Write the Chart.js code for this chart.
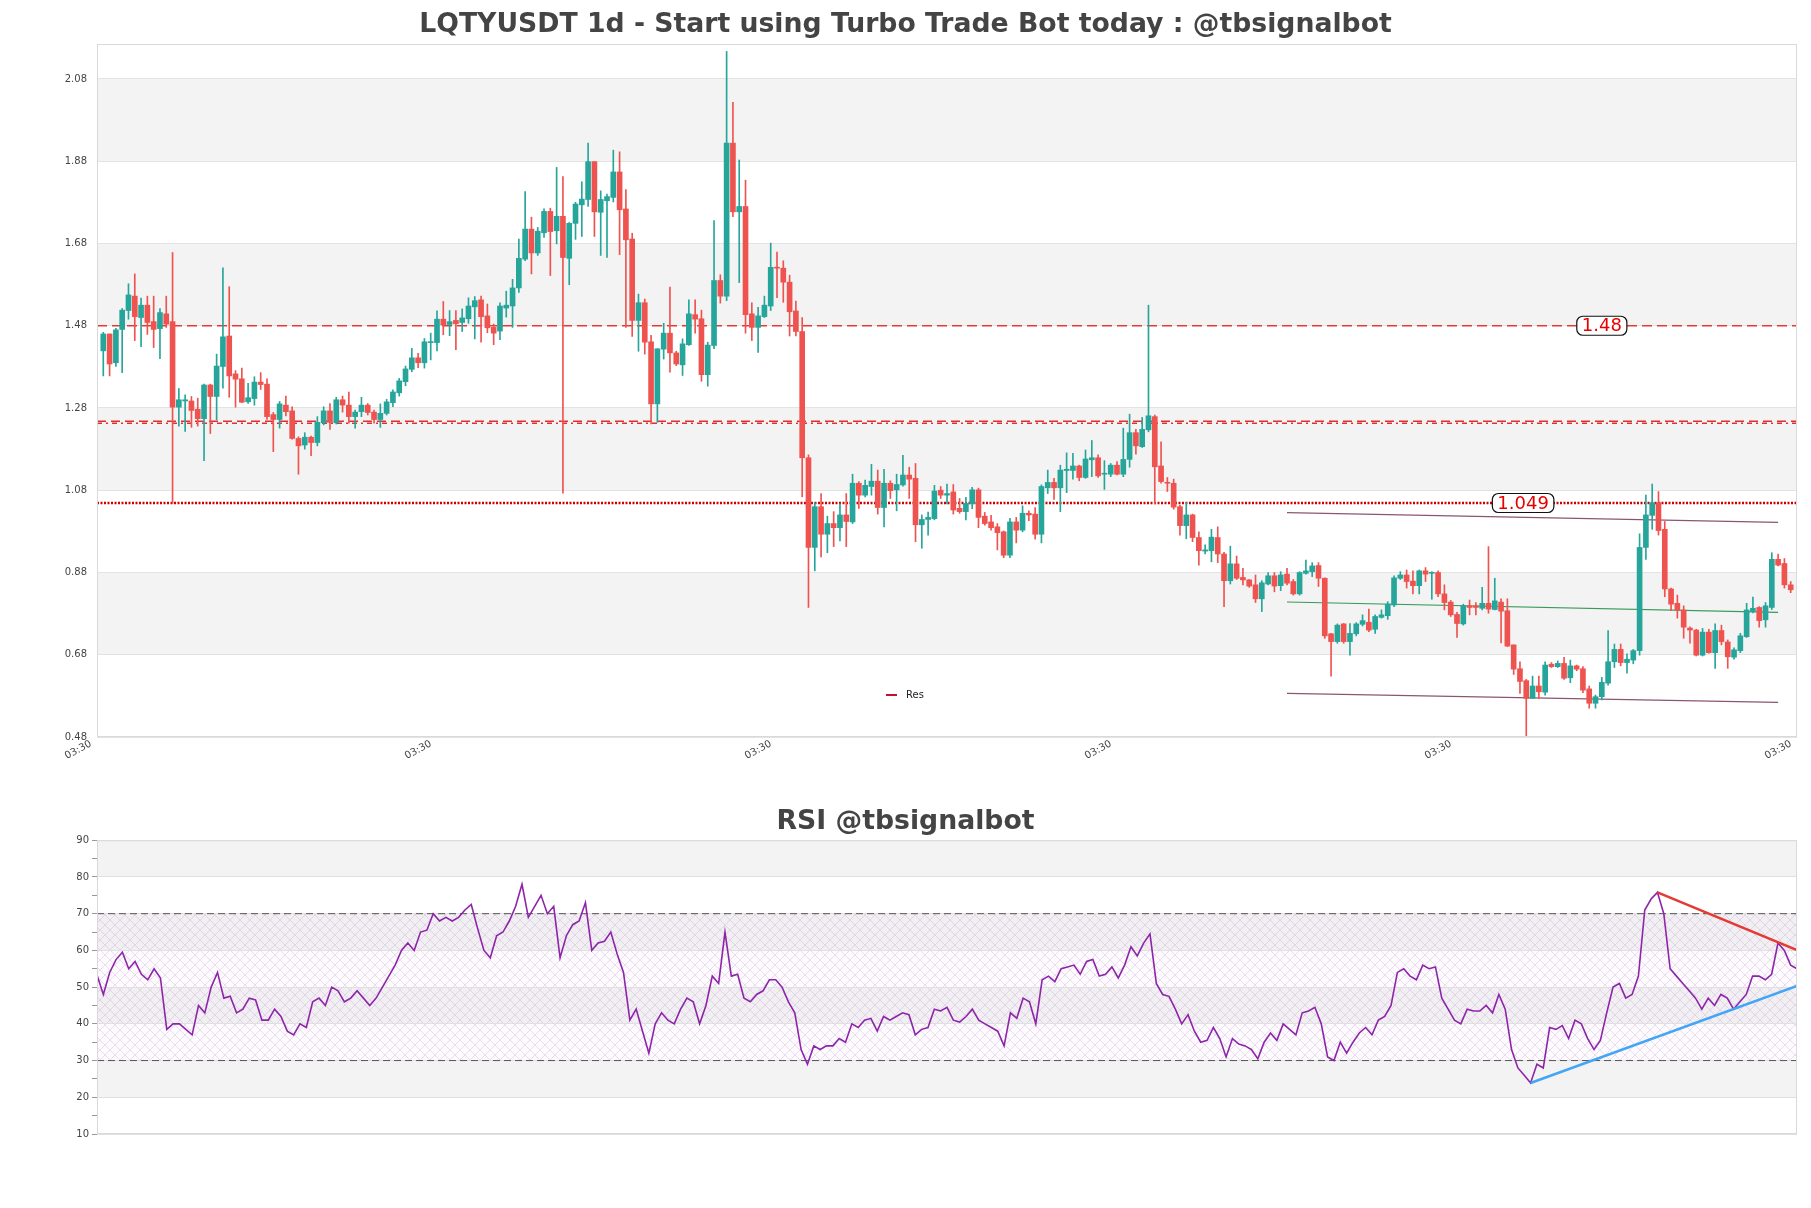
<!DOCTYPE html>
<html>
<head>
<meta charset="utf-8">
<script src="https://cdn.jsdelivr.net/npm/chart.js@4.4.0/dist/chart.umd.min.js"></script>
<style>
  body { margin: 0; background: #fff; width: 1811px; height: 1208px; position: relative; overflow: hidden; font-family: "DejaVu Sans", sans-serif; }
  #priceChart { position: absolute; left: 0; top: 0; }
  #rsiChart { position: absolute; left: 0; top: 790px; }
  #legend { position: absolute; left: 886px; top: 688px; font-size: 10px; color: #222; line-height: 14px; }
  #legend .swatch { display: inline-block; width: 11px; height: 2px; background: #c8102e; vertical-align: middle; margin-right: 9px; }
</style>
</head>
<body>
<canvas id="priceChart" width="1811" height="790"></canvas>
<canvas id="rsiChart" width="1811" height="418"></canvas>
<div id="legend"><span class="swatch"></span>Res</div>
<script>
const openP = [
  1.419,1.460,1.390,1.471,1.517,1.552,1.500,1.530,1.490,1.473,
  1.509,1.490,1.282,1.297,1.297,1.277,1.254,1.336,1.308,1.381,
  1.455,1.363,1.351,1.295,1.303,1.343,1.338,1.264,1.252,1.287,
  1.273,1.206,1.190,1.209,1.196,1.244,1.273,1.244,1.300,1.287,
  1.259,1.271,1.287,1.270,1.252,1.267,1.293,1.317,1.344,1.374,
  1.402,1.390,1.439,1.439,1.496,1.483,1.493,1.488,1.497,1.526,
  1.543,1.504,1.476,1.467,1.523,1.528,1.572,1.642,1.715,1.657,
  1.706,1.758,1.711,1.746,1.644,1.729,1.774,1.787,1.879,1.756,
  1.784,1.792,1.854,1.764,1.691,1.493,1.536,1.441,1.290,1.423,
  1.462,1.414,1.385,1.434,1.507,1.497,1.361,1.432,1.590,1.552,
  1.924,1.757,1.770,1.509,1.476,1.502,1.528,1.622,1.620,1.586,
  1.516,1.466,1.159,0.941,1.040,0.973,0.999,0.989,1.020,1.003,
  1.097,1.068,1.089,1.102,1.038,1.097,1.081,1.093,1.117,1.109,
  0.996,1.009,1.011,1.080,1.068,1.076,1.036,1.028,1.047,1.081,
  1.017,1.003,0.991,0.979,0.922,1.003,0.983,1.024,1.022,0.973,
  1.086,1.099,1.086,1.128,1.128,1.139,1.111,1.154,1.159,1.119,
  1.119,1.141,1.119,1.155,1.220,1.186,1.227,1.259,1.139,1.099,
  1.097,1.040,0.994,1.020,0.965,0.932,0.933,0.965,0.925,0.860,
  0.901,0.868,0.862,0.850,0.816,0.852,0.872,0.848,0.876,0.858,
  0.828,0.878,0.882,0.897,0.866,0.731,0.712,0.755,0.712,0.731,
  0.754,0.759,0.742,0.771,0.775,0.801,0.866,0.874,0.859,0.848,
  0.884,0.878,0.880,0.828,0.808,0.778,0.755,0.799,0.799,0.793,
  0.805,0.790,0.808,0.787,0.704,0.646,0.617,0.574,0.604,0.589,
  0.657,0.651,0.659,0.624,0.653,0.646,0.597,0.562,0.578,0.611,
  0.663,0.693,0.661,0.667,0.690,0.941,1.019,1.050,0.985,0.840,
  0.805,0.789,0.745,0.740,0.679,0.735,0.685,0.739,0.711,0.674,
  0.690,0.724,0.785,0.795,0.765,0.795,0.912,0.902,0.850
];
const highP = [
  1.464,1.460,1.474,1.522,1.582,1.606,1.547,1.552,1.552,1.522,
  1.552,1.658,1.327,1.312,1.308,1.304,1.338,1.338,1.411,1.621,
  1.575,1.371,1.377,1.340,1.356,1.366,1.351,1.269,1.296,1.309,
  1.283,1.210,1.220,1.212,1.259,1.283,1.291,1.306,1.309,1.319,
  1.275,1.306,1.291,1.275,1.290,1.301,1.324,1.352,1.382,1.425,
  1.413,1.449,1.462,1.516,1.539,1.517,1.517,1.521,1.548,1.551,
  1.552,1.533,1.484,1.536,1.564,1.593,1.691,1.806,1.744,1.719,
  1.764,1.766,1.865,1.843,1.731,1.780,1.830,1.924,1.879,1.808,
  1.800,1.907,1.903,1.811,1.705,1.557,1.545,1.457,1.424,1.486,
  1.574,1.418,1.448,1.543,1.543,1.518,1.440,1.736,1.604,2.147,
  2.023,1.883,1.834,1.536,1.525,1.552,1.681,1.659,1.638,1.603,
  1.540,1.500,1.166,1.050,1.072,1.017,1.028,1.047,1.072,1.119,
  1.101,1.105,1.143,1.129,1.131,1.103,1.119,1.165,1.136,1.145,
  1.020,1.027,1.092,1.089,1.095,1.094,1.060,1.063,1.087,1.085,
  1.026,1.019,0.999,0.981,1.012,1.014,1.042,1.030,1.038,1.093,
  1.129,1.109,1.141,1.171,1.170,1.141,1.178,1.201,1.166,1.152,
  1.145,1.150,1.231,1.265,1.228,1.257,1.530,1.263,1.198,1.111,
  1.107,1.044,1.050,1.022,0.979,0.947,0.985,0.991,0.929,0.944,
  0.920,0.890,0.863,0.874,0.860,0.880,0.880,0.882,0.890,0.863,
  0.882,0.910,0.904,0.904,0.867,0.732,0.755,0.756,0.756,0.758,
  0.777,0.791,0.777,0.789,0.809,0.872,0.882,0.886,0.884,0.886,
  0.892,0.882,0.884,0.850,0.812,0.783,0.803,0.813,0.807,0.844,
  0.943,0.866,0.816,0.816,0.704,0.663,0.620,0.628,0.628,0.663,
  0.661,0.665,0.674,0.667,0.655,0.651,0.604,0.582,0.625,0.739,
  0.706,0.706,0.682,0.693,0.974,1.068,1.095,1.077,1.004,0.842,
  0.825,0.799,0.748,0.742,0.744,0.742,0.755,0.752,0.716,0.697,
  0.732,0.805,0.820,0.797,0.807,0.928,0.925,0.914,0.858
];
const lowP = [
  1.358,1.358,1.381,1.366,1.496,1.444,1.429,1.459,1.427,1.400,
  1.476,1.048,1.236,1.223,1.233,1.236,1.152,1.218,1.251,1.328,
  1.306,1.282,1.293,1.291,1.287,1.325,1.252,1.174,1.231,1.261,
  1.204,1.119,1.180,1.164,1.188,1.239,1.228,1.241,1.270,1.243,
  1.231,1.259,1.263,1.243,1.233,1.263,1.283,1.309,1.334,1.368,
  1.378,1.377,1.397,1.419,1.458,1.456,1.422,1.466,1.486,1.448,
  1.440,1.463,1.434,1.446,1.501,1.476,1.561,1.638,1.606,1.651,
  1.695,1.602,1.679,1.073,1.580,1.690,1.697,1.770,1.697,1.651,
  1.646,1.781,1.653,1.476,1.454,1.418,1.411,1.241,1.245,1.399,
  1.367,1.383,1.359,1.432,1.462,1.345,1.333,1.424,1.535,1.541,
  1.745,1.585,1.462,1.444,1.415,1.500,1.517,1.548,1.537,1.455,
  1.455,1.064,0.795,0.884,0.918,0.928,0.943,0.957,0.943,0.999,
  1.036,1.064,1.068,1.022,0.991,1.060,1.030,1.090,1.060,0.955,
  0.939,0.971,1.008,1.060,1.047,1.022,1.024,1.008,1.035,0.989,
  0.995,0.983,0.935,0.916,0.916,0.952,0.979,1.006,0.961,0.952,
  1.072,1.058,1.028,1.074,1.107,1.103,1.109,1.113,1.111,1.082,
  1.113,1.117,1.113,1.136,1.168,1.184,1.222,1.047,1.097,1.077,
  1.034,0.971,0.962,0.955,0.898,0.925,0.906,0.904,0.797,0.852,
  0.863,0.850,0.844,0.807,0.785,0.850,0.833,0.836,0.850,0.825,
  0.825,0.876,0.870,0.846,0.720,0.628,0.708,0.708,0.679,0.726,
  0.750,0.736,0.732,0.769,0.766,0.797,0.863,0.842,0.828,0.828,
  0.858,0.815,0.821,0.789,0.773,0.722,0.752,0.777,0.777,0.789,
  0.781,0.789,0.709,0.700,0.632,0.586,0.482,0.574,0.574,0.582,
  0.649,0.649,0.620,0.612,0.641,0.588,0.550,0.550,0.570,0.606,
  0.649,0.653,0.635,0.658,0.679,0.912,0.985,0.971,0.821,0.787,
  0.769,0.720,0.708,0.677,0.677,0.684,0.647,0.704,0.647,0.669,
  0.685,0.722,0.782,0.747,0.747,0.790,0.896,0.842,0.831
];
const closeP = [
  1.460,1.387,1.470,1.518,1.555,1.502,1.530,1.488,1.471,1.512,
  1.484,1.282,1.300,1.300,1.274,1.254,1.336,1.308,1.382,1.453,
  1.358,1.350,1.294,1.305,1.343,1.337,1.259,1.252,1.290,1.271,
  1.206,1.188,1.209,1.196,1.245,1.273,1.245,1.300,1.287,1.259,
  1.270,1.287,1.269,1.252,1.267,1.295,1.319,1.346,1.375,1.402,
  1.390,1.441,1.441,1.496,1.482,1.490,1.485,1.499,1.528,1.541,
  1.502,1.475,1.462,1.528,1.530,1.572,1.644,1.715,1.657,1.710,
  1.758,1.709,1.746,1.646,1.729,1.776,1.788,1.879,1.757,1.787,
  1.794,1.854,1.762,1.689,1.493,1.536,1.440,1.290,1.424,1.462,
  1.414,1.387,1.436,1.509,1.496,1.361,1.433,1.590,1.552,1.924,
  1.757,1.770,1.507,1.476,1.504,1.530,1.622,1.620,1.586,1.514,
  1.466,1.159,0.941,1.040,0.973,0.999,0.989,1.020,1.004,1.097,
  1.068,1.092,1.102,1.038,1.097,1.079,1.094,1.117,1.107,0.996,
  1.009,1.014,1.078,1.068,1.072,1.032,1.028,1.048,1.081,1.014,
  0.999,0.989,0.977,0.922,1.003,0.983,1.024,1.020,0.973,1.089,
  1.099,1.086,1.129,1.131,1.139,1.111,1.156,1.159,1.115,1.121,
  1.141,1.119,1.155,1.220,1.188,1.228,1.261,1.137,1.101,1.097,
  1.039,0.994,1.020,0.965,0.933,0.935,0.966,0.925,0.860,0.901,
  0.866,0.862,0.847,0.816,0.855,0.872,0.847,0.874,0.854,0.828,
  0.880,0.884,0.896,0.866,0.726,0.712,0.752,0.712,0.732,0.755,
  0.763,0.740,0.773,0.777,0.803,0.867,0.874,0.858,0.848,0.884,
  0.876,0.880,0.828,0.807,0.777,0.756,0.799,0.795,0.795,0.805,
  0.791,0.811,0.786,0.701,0.645,0.615,0.574,0.604,0.590,0.655,
  0.651,0.659,0.623,0.653,0.645,0.594,0.562,0.578,0.613,0.663,
  0.693,0.661,0.669,0.690,0.941,1.020,1.050,0.982,0.840,0.803,
  0.789,0.747,0.740,0.679,0.735,0.685,0.739,0.712,0.675,0.692,
  0.726,0.789,0.793,0.763,0.799,0.912,0.898,0.850,0.838
];

// RSI, one value per candle
const rsiValues = [
  53.3,48,54,57.5,59.5,55,57,53.5,52,55,
  52.5,38.5,40,40,38.5,37,45,43,50,54,
  47,47.5,43,44,47,46.5,41,41,44,42,
  38,37,40,39,46,47,45,50,49,46,
  47,49,47,45,47,50,53,56,60,62,
  60,65,65.5,70,68,69,68,69,71,72.5,
  66,60,58,64,65,68,72,78,69,72,
  75,70,72,58,64,67,68,73,60,62,
  62.5,65,59,54,41,44,38,32,40,43,
  41,40,44,47,46,40,45,53,51,65,
  53,53.5,47,46,48,49,52,52,50,46,
  43,33,29,34,33,34,34,36,35,40,
  39,41,41.5,38,42,41,42,43,42.5,37,
  38.5,39,44,43.5,44.5,41,40.5,42,44,41,
  40,39,38,34,43,41.5,47,46,40,52,
  53,51.5,55,55.5,56,53.5,57,57.5,53,53.5,
  55.5,52.5,56,61,58.5,62,64.5,51,48,47.5,
  44,40,42.5,38,35,35.5,39,36,31,36,
  34.5,34,33,30.5,35,37.5,35.5,40,38.5,37,
  43,43.5,44.5,40,31,30,35,32,35,37.5,
  39,37,41,42,45,54,55,53,52,56,
  55,55.5,47,44,41,40,44,43.5,43.5,45,
  43,48,44,33,28,26,23.9,29,28,39,
  38.5,39.5,36,41,40,36,33,35.5,43,50,
  51,47,48,53,71,74,75.8,70,55,53,
  51,49,47,44,47,45,48,47,44,46,
  48,53,53,52,53.5,62,60,56,55
];

const yTicks = [0.48, 0.68, 0.88, 1.08, 1.28, 1.48, 1.68, 1.88, 2.08];
const xTickPos = [0, 54, 108, 162, 216, 270];
const xTickLabels = ["03:30", "03:30", "03:30", "03:30", "03:30", "03:30"];

const resLevels = [1.48, 1.2477, 1.2428, 1.049];
const resLabelText = ["1.48", "1.049"];
const resLabelValue = [1.48, 1.049];
const resLabelPos = [239, 226.5];

// channel drawn on the last part of the chart
const channelX = [189, 267];
const channelUpper = [1.0254, 1.0021];
const channelMid = [0.8083, 0.7832];
const channelLower = [0.5863, 0.5644];

const rsiLevels = [70, 30];
const rsiZone = [30, 70];
const rsiFallX = [246, 268];
const rsiFallY = [75.8, 60.1];
const rsiRiseX = [226, 268];
const rsiRiseY = [23.9, 50.3];

Chart.defaults.font.family = "'DejaVu Sans', sans-serif";
Chart.defaults.color = "#444";

const upColor = "#26a69a";
const downColor = "#ef5350";
const candleColors = closeP.map((c, i) => (c >= openP[i] ? upColor : downColor));
const wickData = openP.map((_, i) => ({ x: i + 1, y: [lowP[i], highP[i]] }));
const bodyData = openP.map((o, i) => ({ x: i + 1, y: [o, closeP[i]] }));

function levelLine(v, xMin, xMax) {
  return [{ x: xMin, y: v }, { x: xMax, y: v }];
}
function segment(xs, ys) {
  return xs.map((x, i) => ({ x: x, y: ys[i] }));
}

// empty axis on the right so the title is centred on the whole canvas
const spacerAxis = {
  position: "right",
  afterFit: s => { s.width = 14; },
  ticks: { display: false },
  grid: { display: false, drawTicks: false },
  border: { display: false }
};

const bandsPlugin = {
  id: "bands",
  beforeDraw(chart, args, opts) {
    const { ctx, chartArea: a, scales: { y } } = chart;
    const major = y.ticks.map(t => t.value).filter(v => opts.isMajor(v));
    ctx.save();
    ctx.fillStyle = "#fff";
    ctx.fillRect(a.left, a.top, a.width, a.height);
    ctx.fillStyle = "#f3f3f3";
    for (let i = 1; i < major.length - 1; i += 2) {
      const y1 = y.getPixelForValue(major[i]);
      const y2 = y.getPixelForValue(major[i + 1]);
      ctx.fillRect(a.left, y2, a.width, y1 - y2);
    }
    if (opts.zone) {
      const pc = document.createElement("canvas");
      pc.width = pc.height = 10;
      const g = pc.getContext("2d");
      g.strokeStyle = "rgba(200,175,215,0.5)";
      g.lineWidth = 0.8;
      g.beginPath();
      g.moveTo(0, 0); g.lineTo(10, 10);
      g.moveTo(10, 0); g.lineTo(0, 10);
      g.stroke();
      const top = y.getPixelForValue(opts.zone[1]);
      const bot = y.getPixelForValue(opts.zone[0]);
      ctx.fillStyle = "rgba(215,190,230,0.06)";
      ctx.fillRect(a.left, top, a.width, bot - top);
      ctx.fillStyle = ctx.createPattern(pc, "repeat");
      ctx.fillRect(a.left, top, a.width, bot - top);
    }
    ctx.restore();
  },
  afterDraw(chart) {
    const { ctx, chartArea: a } = chart;
    ctx.save();
    ctx.strokeStyle = "#d9d9d9";
    ctx.lineWidth = 1;
    ctx.strokeRect(a.left + 0.5, a.top + 0.5, a.width - 1, a.height - 1);
    ctx.restore();
  }
};

const levelLabelPlugin = {
  id: "levelLabels",
  afterDatasetsDraw(chart) {
    const { ctx, scales: { x, y } } = chart;
    ctx.save();
    ctx.font = "18px 'DejaVu Sans'";
    ctx.textAlign = "center";
    ctx.textBaseline = "middle";
    resLabelText.forEach((t, i) => {
      const px = x.getPixelForValue(resLabelPos[i]);
      const py = y.getPixelForValue(resLabelValue[i]);
      const w = ctx.measureText(t).width + 10;
      const h = 19;
      ctx.beginPath();
      ctx.roundRect(px - w / 2, py - h / 2, w, h, 6);
      ctx.fillStyle = "#fff";
      ctx.fill();
      ctx.lineWidth = 1.2;
      ctx.strokeStyle = "#111";
      ctx.stroke();
      ctx.fillStyle = "#e60000";
      ctx.fillText(t, px, py + 1);
    });
    ctx.restore();
  }
};

const xMin = xTickPos[0];
const xMax = xTickPos[xTickPos.length - 1];

new Chart(document.getElementById("priceChart"), {
  type: "bar",
  data: {
    datasets: [
      { type: "line", label: "Res", data: levelLine(resLevels[0], xMin, xMax), borderColor: "#e53935", borderWidth: 1.5, borderDash: [10, 5], pointRadius: 0, order: 5 },
      { type: "line", label: "Res2", data: levelLine(resLevels[1], xMin, xMax), borderColor: "#e03030", borderWidth: 1.5, borderDash: [9, 5], pointRadius: 0, order: 5 },
      { type: "line", label: "Res3", data: levelLine(resLevels[2], xMin, xMax), borderColor: "#e03030", borderWidth: 1.5, borderDash: [5, 4, 2, 4], pointRadius: 0, order: 5 },
      { type: "line", label: "Res4", data: levelLine(resLevels[3], xMin, xMax), borderColor: "#cc0000", borderWidth: 2.5, borderDash: [2, 1.5], pointRadius: 0, order: 5 },
      { type: "line", label: "upper", data: segment(channelX, channelUpper), borderColor: "#8a5570", borderWidth: 1.2, pointRadius: 0, order: 4 },
      { type: "line", label: "mid", data: segment(channelX, channelMid), borderColor: "#3a9a5b", borderWidth: 1.2, pointRadius: 0, order: 4 },
      { type: "line", label: "lower", data: segment(channelX, channelLower), borderColor: "#8a5570", borderWidth: 1.2, pointRadius: 0, order: 4 },
      { label: "wick", data: wickData, backgroundColor: candleColors, barThickness: 1, grouped: false, order: 2 },
      { label: "body", data: bodyData, backgroundColor: candleColors, barThickness: 5, minBarLength: 1, grouped: false, order: 1 }
    ]
  },
  options: {
    responsive: false,
    animation: false,
    events: [],
    layout: { padding: 0 },
    plugins: {
      legend: { display: false },
      tooltip: { enabled: false },
      title: {
        display: true,
        text: "LQTYUSDT 1d - Start using Turbo Trade Bot today : @tbsignalbot",
        font: { size: 26.7, weight: "bold" },
        color: "#444",
        padding: { top: 9.2, bottom: 2.8 }
      },
      bands: { isMajor: () => true }
    },
    scales: {
      x: {
        type: "linear",
        min: xMin,
        max: xMax,
        offset: false,
        afterBuildTicks: s => { s.ticks = xTickPos.map(v => ({ value: v })); },
        afterFit: s => { s.height = 53; },
        ticks: { autoSkip: false, minRotation: 28, maxRotation: 28, font: { size: 10 }, color: "#444",
                 padding: 1, labelOffset: -6, callback: (v, i) => xTickLabels[i] },
        grid: { display: false, drawTicks: false },
        border: { display: false }
      },
      y: {
        type: "linear",
        min: 0.48,
        max: 2.165,
        afterBuildTicks: s => { s.ticks = yTicks.map(v => ({ value: v })); },
        afterFit: s => { s.width = 97; },
        ticks: { font: { size: 10 }, color: "#444", padding: 10, callback: v => v.toFixed(2) },
        grid: { color: "#e3e3e3", drawTicks: false },
        border: { display: false }
      },
      spacer: spacerAxis
    }
  },
  plugins: [bandsPlugin, levelLabelPlugin]
});

const rsiLast = rsiValues.length - 1;

new Chart(document.getElementById("rsiChart"), {
  type: "line",
  data: {
    datasets: [
      { label: "RSI", data: rsiValues.map((v, i) => ({ x: i, y: v })), borderColor: "#8e24aa", borderWidth: 1.6, pointRadius: 0, tension: 0, order: 1 },
      { label: "70", data: levelLine(rsiLevels[0], 0, rsiLast), borderColor: "#555", borderWidth: 1, borderDash: [7, 4], pointRadius: 0, order: 3 },
      { label: "30", data: levelLine(rsiLevels[1], 0, rsiLast), borderColor: "#555", borderWidth: 1, borderDash: [7, 4], pointRadius: 0, order: 3 },
      { label: "fall", data: segment(rsiFallX, rsiFallY), borderColor: "#e53935", borderWidth: 2.5, pointRadius: 0, order: 0 },
      { label: "rise", data: segment(rsiRiseX, rsiRiseY), borderColor: "#42a5f5", borderWidth: 2.5, pointRadius: 0, order: 0 }
    ]
  },
  options: {
    responsive: false,
    animation: false,
    events: [],
    layout: { padding: { left: 0, right: 0, top: 0, bottom: 74 } },
    plugins: {
      legend: { display: false },
      tooltip: { enabled: false },
      title: {
        display: true,
        text: "RSI @tbsignalbot",
        font: { size: 26.7, weight: "bold" },
        color: "#444",
        padding: { top: 16.2, bottom: 2 }
      },
      bands: { isMajor: v => v % 10 === 0, zone: rsiZone }
    },
    scales: {
      x: { type: "linear", min: 0, max: rsiLast, display: false },
      y: {
        min: 10,
        max: 90,
        afterFit: s => { s.width = 97; },
        ticks: { stepSize: 5, font: { size: 10 }, color: "#444", padding: 3,
                 callback: v => (v % 10 === 0 ? v : "") },
        grid: {
          color: c => (c.tick && c.tick.value % 10 === 0 ? "#e0e0e0" : "rgba(0,0,0,0)"),
          tickColor: "#999",
          tickLength: 5
        },
        border: { display: false }
      },
      spacer: spacerAxis
    }
  },
  plugins: [bandsPlugin]
});
</script>
</body>
</html>
